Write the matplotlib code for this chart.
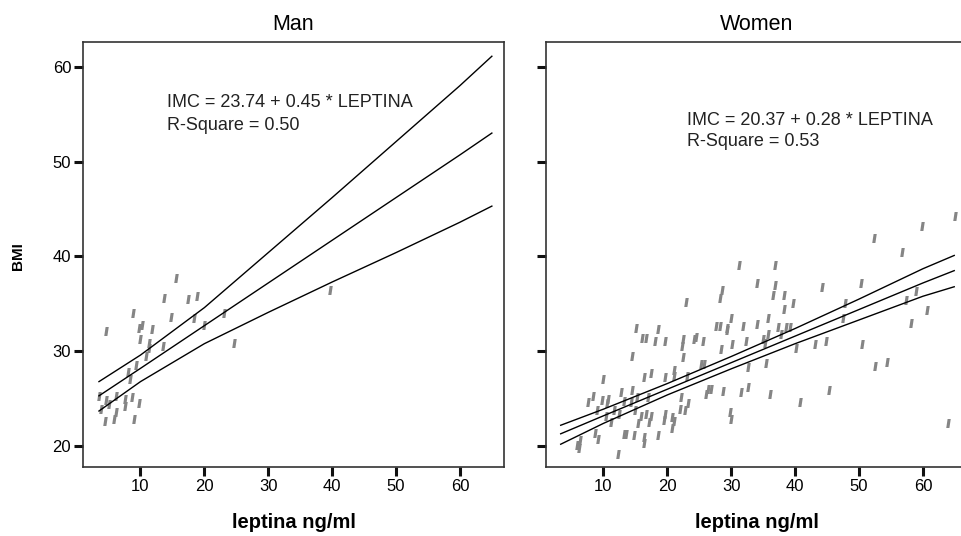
import matplotlib
matplotlib.use("Agg")
import matplotlib.pyplot as plt

plt.rcParams['font.family'] = ['Liberation Sans', 'DejaVu Sans']

# ---------------- data ----------------
man_leptin = [15.6, 13.7, 17.5, 18.8, 8.9, 14.8, 18.3, 4.6, 10.2, 9.7, 11.8, 19.9,
              23.1, 10.0, 11.3, 11.3, 13.5, 24.7, 10.8, 9.3, 8.0, 8.3, 3.5, 4.6,
              5.0, 6.2, 7.5, 7.5, 8.6, 9.7, 3.8, 6.2, 5.8, 4.5, 9.0, 39.7]
man_bmi = [37.7, 35.6, 35.5, 35.8, 34.0, 33.6, 33.5, 32.1, 32.8, 32.4, 32.3, 32.8,
           34.0, 31.3, 30.9, 30.3, 30.6, 30.9, 29.5, 28.5, 27.8, 27.1, 25.3, 24.9,
           24.4, 25.3, 25.0, 24.2, 25.2, 24.5, 23.9, 23.6, 22.9, 22.7, 22.9, 36.5]

women_leptin = [31.2, 28.5, 28.2, 22.9, 29.9, 27.6, 28.3, 29.4, 31.8, 34.0, 15.1, 18.5,
                65.0, 59.8, 52.3, 56.8, 36.8, 34.1, 36.8, 44.2, 50.3, 36.5, 38.2, 39.6,
                38.2, 47.8, 57.4, 58.9, 60.6, 35.8, 37.3, 38.6, 39.2, 47.5, 58.1,
                35.0, 35.3, 35.8, 37.8, 35.4, 40.2, 43.1, 44.8, 50.4, 52.5, 54.4,
                36.1, 40.7, 45.3, 63.9,
                16.1, 16.7, 18.0, 19.6, 22.4, 22.3, 24.2, 24.5, 25.6, 29.4, 28.4, 30.1,
                32.3, 14.5, 22.5, 25.3, 25.8, 21.0, 16.4, 17.5, 10.0, 19.6, 21.1, 32.6,
                26.3, 26.8, 26.0, 28.7, 31.5, 32.6, 29.8, 29.9, 8.4, 7.6, 9.7, 10.7,
                10.6, 12.8, 14.5, 15.3, 17.0, 13.2, 14.3, 22.1, 23.2, 21.9, 22.8, 9.0,
                10.4, 11.7, 12.5, 11.1, 14.9, 15.8, 16.6, 17.4, 19.6, 20.8, 21.1, 19.4,
                15.4, 17.2, 20.7, 13.2, 13.5, 14.7, 16.4, 18.6, 16.4, 9.1, 8.7, 6.4,
                5.8, 6.2, 12.3, 23.0]
women_bmi = [39.1, 36.5, 35.6, 35.2, 33.5, 32.7, 32.7, 32.5, 32.7, 32.9, 32.5, 32.3,
             44.3, 43.2, 41.9, 40.5, 39.1, 37.2, 37.0, 36.8, 37.2, 35.9, 35.9, 35.1,
             34.5, 35.1, 35.4, 36.3, 34.4, 33.5, 32.6, 32.6, 32.6, 33.5, 33.0,
             31.3, 30.9, 31.8, 31.8, 28.8, 30.3, 30.8, 31.1, 30.8, 28.4, 28.9,
             25.5, 24.6, 25.9, 22.4,
             31.4, 31.4, 31.1, 31.1, 31.3, 30.6, 31.3, 31.5, 31.1, 32.2, 30.2, 30.8,
             31.1, 29.5, 29.4, 28.7, 28.7, 28.0, 27.3, 27.7, 27.1, 27.3, 27.4, 28.3,
             26.0, 26.0, 25.5, 25.8, 25.7, 26.2, 23.6, 22.9, 25.3, 24.6, 24.9, 25.0,
             24.5, 25.7, 25.9, 25.2, 25.2, 24.8, 24.6, 25.2, 24.5, 23.9, 23.8, 23.8,
             23.2, 23.8, 23.4, 22.5, 23.8, 23.2, 23.4, 23.2, 23.4, 23.1, 22.7, 22.8,
             22.4, 22.5, 21.9, 21.3, 21.3, 21.2, 21.0, 21.2, 20.3, 20.8, 21.4, 20.6,
             20.1, 19.8, 19.2, 27.4]

# regression line and confidence band
man_band_x = [3.5, 10, 20, 30, 40, 50, 60, 65]
man_fit = [25.3, 28.2, 32.7, 37.2, 41.7, 46.2, 50.7, 53.0]
man_upper = [26.8, 29.6, 34.6, 40.4, 46.2, 52.1, 58.0, 61.1]
man_lower = [23.7, 26.8, 30.8, 34.1, 37.3, 40.4, 43.6, 45.3]

women_band_x = [3.3, 10, 20, 30, 40, 50, 60, 64.9]
women_fit = [21.3, 23.2, 26.0, 28.8, 31.6, 34.4, 37.2, 38.5]
women_upper = [22.2, 23.9, 26.6, 29.45, 32.4, 35.5, 38.7, 40.1]
women_lower = [20.2, 22.4, 25.4, 28.15, 30.8, 33.3, 35.8, 36.8]

x_ticks = [10, 20, 30, 40, 50, 60]
y_ticks = [20, 30, 40, 50, 60]

titles = ["Man", "Women"]
eq_lines = [["IMC = 23.74 + 0.45 * LEPTINA", "R-Square = 0.50"],
            ["IMC = 20.37 + 0.28 * LEPTINA", "R-Square = 0.53"]]
x_label = "leptina ng/ml"
y_label = "BMI"

# ---------------- figure ----------------
W, H = 961, 536
fig = plt.figure(figsize=(W / 100, H / 100), dpi=100)


def px_rect(l, t, r, b):
    return [l / W, 1 - b / H, (r - l) / W, (b - t) / H]


axL = fig.add_axes(px_rect(83, 42, 504, 467))
axR = fig.add_axes(px_rect(546, 42, 967, 467))

mk = [(-0.5, -1.0), (0.2, -1.0), (0.5, 1.0), (-0.2, 1.0)]
point_color = "#858585"

panels = [
    (axL, man_leptin, man_bmi, man_band_x, man_fit, man_upper, man_lower, (14.1, 55.7, 53.3)),
    (axR, women_leptin, women_bmi, women_band_x, women_fit, women_upper, women_lower, (23.0, 53.9, 51.6)),
]

for i, (ax, xs, ys, bx, bf, bu, bl, tpos) in enumerate(panels):
    ax.scatter(xs, ys, marker=mk, s=42, c=point_color, linewidths=0, zorder=2)
    for series in (bu, bf, bl):
        ax.plot(bx, series, color="black", lw=1.0, zorder=3)
    ax.set_xlim(1.0, 66.9)
    ax.set_ylim(17.8, 62.6)
    ax.set_xticks(x_ticks)
    ax.set_yticks(y_ticks)
    ax.tick_params(direction="out", length=6.5, width=2.2, labelsize=12, pad=2,
                   color="#111111")
    for sp in ax.spines.values():
        sp.set_linewidth(1.2)
        sp.set_color("#333333")
    ax.set_title(titles[i], fontsize=15.5, pad=9)
    ax.text(tpos[0], tpos[1], eq_lines[i][0], fontsize=13, ha="left", va="baseline",
            color="#222222")
    ax.text(tpos[0], tpos[2], eq_lines[i][1], fontsize=13, ha="left", va="baseline",
            color="#222222")
    ax.set_xlabel(x_label, fontsize=14.5, fontweight="bold")
    ax.xaxis.set_label_coords(0.5, -(522 - 467) / 425)
    ax.xaxis.label.set_va("center")

axR.tick_params(labelleft=False)

fig.text(18 / W, 1 - 256 / H, y_label, rotation=90, fontweight="bold", fontsize=11,
         ha="center", va="center")

fig.savefig("out.png", dpi=100)
